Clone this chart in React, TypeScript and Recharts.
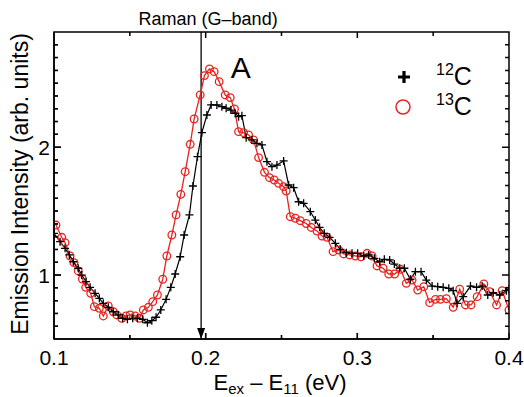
import React from 'react';
import { LineChart, Line, XAxis, YAxis, ReferenceLine, ReferenceDot, Legend, Label } from 'recharts';

// 12C series (black "+")
const c12X = [0.1000,0.1040,0.1073,0.1101,0.1127,0.1160,0.1183,0.1211,0.1238,0.1271,0.1299,0.1325,0.1358,0.1391,0.1424,0.1453,0.1484,0.1519,0.1550,0.1585,0.1616,0.1645,0.1673,0.1704,0.1739,0.1770,0.1799,0.1832,0.1858,0.1893,0.1916,0.1946,0.1975,0.2008,0.2036,0.2074,0.2107,0.2135,0.2166,0.2195,0.2217,0.2239,0.2267,0.2305,0.2338,0.2371,0.2404,0.2437,0.2470,0.2514,0.2547,0.2580,0.2613,0.2646,0.2690,0.2723,0.2751,0.2782,0.2817,0.2855,0.2888,0.2927,0.2965,0.3002,0.3042,0.3075,0.3112,0.3147,0.3178,0.3213,0.3244,0.3279,0.3310,0.3350,0.3383,0.3420,0.3455,0.3493,0.3530,0.3566,0.3603,0.3632,0.3658,0.3698,0.3746,0.3786,0.3823,0.3860,0.3896,0.3939,0.3983,0.4000];
const c12Y = [1.326,1.261,1.209,1.157,1.104,1.053,1.000,0.948,0.904,0.857,0.818,0.779,0.748,0.713,0.688,0.662,0.654,0.662,0.662,0.654,0.627,0.643,0.670,0.727,0.810,0.904,1.008,1.143,1.313,1.470,1.696,1.925,2.113,2.251,2.330,2.330,2.316,2.304,2.290,2.265,2.238,2.246,2.074,2.056,2.030,2.017,1.886,1.847,1.860,1.892,1.704,1.683,1.573,1.561,1.495,1.430,1.373,1.326,1.295,1.248,1.201,1.175,1.170,1.170,1.149,1.157,1.131,1.104,1.123,1.118,1.086,1.053,1.053,0.967,1.026,1.026,0.961,0.914,0.909,0.904,0.896,0.878,0.779,0.831,0.914,0.904,0.914,0.844,0.862,0.844,0.878,0.889];

// 13C series (red circles)
const c13X = [0.1013,0.1051,0.1073,0.1106,0.1132,0.1160,0.1187,0.1209,0.1242,0.1266,0.1299,0.1325,0.1358,0.1391,0.1414,0.1447,0.1475,0.1502,0.1535,0.1563,0.1589,0.1622,0.1651,0.1682,0.1717,0.1744,0.1777,0.1805,0.1836,0.1865,0.1898,0.1924,0.1964,0.1992,0.2025,0.2056,0.2089,0.2129,0.2162,0.2190,0.2217,0.2250,0.2283,0.2316,0.2349,0.2388,0.2421,0.2452,0.2481,0.2514,0.2531,0.2558,0.2591,0.2624,0.2663,0.2696,0.2734,0.2767,0.2800,0.2840,0.2877,0.2910,0.2949,0.2987,0.3024,0.3064,0.3097,0.3130,0.3170,0.3207,0.3246,0.3284,0.3323,0.3361,0.3398,0.3438,0.3477,0.3515,0.3548,0.3587,0.3632,0.3675,0.3713,0.3750,0.3790,0.3834,0.3873,0.3918,0.3955,0.4000];
const c13Y = [1.391,1.295,1.253,1.149,1.097,1.032,0.969,0.904,0.857,0.753,0.740,0.680,0.758,0.713,0.688,0.662,0.680,0.688,0.680,0.662,0.727,0.748,0.792,0.844,0.967,1.149,1.313,1.470,1.631,1.808,2.022,2.220,2.408,2.559,2.611,2.590,2.512,2.408,2.387,2.298,2.121,2.113,2.095,2.056,1.918,1.803,1.761,1.743,1.717,1.691,1.657,1.456,1.444,1.425,1.403,1.372,1.344,1.305,1.295,1.183,1.196,1.165,1.157,1.149,1.143,1.170,1.149,1.071,1.053,1.008,1.008,1.045,0.935,0.961,0.883,0.909,0.784,0.810,0.810,0.815,0.748,0.889,0.766,0.766,0.831,0.930,0.870,0.766,0.878,0.727];

const xTicks = [0.1, 0.15, 0.2, 0.25, 0.3, 0.35, 0.4];
const xMajorTicks = [0.1, 0.2, 0.3, 0.4];
const yTicks = [0.6,0.7,0.8,0.9,1,1.1,1.2,1.3,1.4,1.5,1.6,1.7,1.8,1.9,2,2.1,2.2,2.3,2.4,2.5,2.6,2.7,2.8];
const yMajorTicks = [1, 2];
const xDomain = [0.1, 0.4];
const yDomain = [0.5, 2.9];
const ramanX = 0.197;
const seriesNames = ['12', '13'];

const data12 = c12X.map((x, i) => ({ x, y: c12Y[i] }));
const data13 = c13X.map((x, i) => ({ x, y: c13Y[i] }));

// chart layout (not data)
const W = 524;
const H = 397;
const M = { top: 32, right: 15, bottom: 0, left: 0 };
const X_AXIS_H = 58;
const Y_AXIS_W = 54;
const PL = M.left + Y_AXIS_W;
const PT = M.top;
const PW = W - M.left - M.right - Y_AXIS_W;
const PH = H - M.top - M.bottom - X_AXIS_H;
const px = (v: number) => PL + ((v - xDomain[0]) / (xDomain[1] - xDomain[0])) * PW;
const py = (v: number) => PT + ((yDomain[1] - v) / (yDomain[1] - yDomain[0])) * PH;

const FONT = '"Liberation Sans", Arial, Helvetica, sans-serif';
const RED = '#e8231f';

const isMajor = (v: number, list: number[]) => list.some((m) => Math.abs(m - v) < 1e-6);

const BottomTick = (p: any) => {
  const { x, y, payload } = p;
  const v = payload.value;
  const major = isMajor(v, xMajorTicks);
  return (
    <g>
      <path d={`M${x},${y}V${y - (major ? 6 : 4)}`} stroke="#000" strokeWidth={1.2} fill="none" />
      {major && (
        <text x={x} y={y + 26} textAnchor="middle" fontSize={21} fontFamily={FONT} fill="#000">
          {v.toFixed(1)}
        </text>
      )}
    </g>
  );
};

const LeftTick = (p: any) => {
  const { x, y, payload } = p;
  const v = payload.value;
  const major = isMajor(v, yMajorTicks);
  return (
    <g>
      <path d={`M${x},${y}H${x + (major ? 7 : 4)}`} stroke="#000" strokeWidth={1.2} fill="none" />
      {major && (
        <text x={x - 4} y={y + 7.5} textAnchor="end" fontSize={21} fontFamily={FONT} fill="#000">
          {String(v)}
        </text>
      )}
    </g>
  );
};

// frame and inward ticks on all four sides
const frameAndTicks = () => {
  let d = `M${PL},${PT}H${PL + PW}V${PT + PH}H${PL}Z`;
  xTicks.slice(1, -1).forEach((v) => {
    const len = isMajor(v, xMajorTicks) ? 6 : 4;
    const x = px(v);
    d += `M${x},${PT + PH}V${PT + PH - len}M${x},${PT}V${PT + len}`;
  });
  yTicks.forEach((v) => {
    const len = isMajor(v, yMajorTicks) ? 7 : 4;
    const y = py(v);
    d += `M${PL},${y}H${PL + len}M${PL + PW},${y}H${PL + PW - len}`;
  });
  return d;
};

const PlusDot = (p: any) => {
  const { cx, cy, index } = p;
  if (cx == null || cy == null) return <g key={`pd${index}`} />;
  return (
    <path
      key={`pd${index}`}
      d={`M${cx - 4},${cy}H${cx + 4}M${cx},${cy - 4}V${cy + 4}`}
      stroke="#000"
      strokeWidth={1.3}
      fill="none"
    />
  );
};

const CircleDot = (p: any) => {
  const { cx, cy, index } = p;
  if (cx == null || cy == null) return <g key={`cd${index}`} />;
  return <circle key={`cd${index}`} cx={cx} cy={cy} r={3.8} stroke={RED} strokeWidth={1.3} fill="none" />;
};

const LegendContent = () => (
  <svg width={120} height={64} style={{ overflow: 'visible' }}>
    <path d="M8,17H20M14,11V23" stroke="#000" strokeWidth={3.2} fill="none" />
    <text x={46} y={25} fontSize={25} fontFamily={FONT} fill="#000">
      <tspan fontSize={16} dy={-10}>{seriesNames[0]}</tspan>
      <tspan dy={10}>C</tspan>
    </text>
    <circle cx={13} cy={47} r={7} stroke={RED} strokeWidth={1.5} fill="none" />
    <text x={46} y={55} fontSize={25} fontFamily={FONT} fill="#000">
      <tspan fontSize={16} dy={-10}>{seriesNames[1]}</tspan>
      <tspan dy={10}>C</tspan>
    </text>
  </svg>
);

const XTitle = () => (
  <text x={280} y={390} textAnchor="middle" fontSize={22} fontFamily={FONT} fill="#000">
    E<tspan fontSize={15} dy={4}>ex</tspan>
    <tspan dy={-4}> – E</tspan>
    <tspan fontSize={15} dy={4}>11</tspan>
    <tspan dy={-4}> (eV)</tspan>
  </text>
);

const YTitle = () => (
  <text
    x={28}
    y={184}
    transform="rotate(-90, 28, 184)"
    textAnchor="middle"
    fontSize={23}
    fontFamily={FONT}
    fill="#000"
  >
    Emission Intensity (arb. units)
  </text>
);

const RamanLabel = (p: any) => {
  const vb = p.viewBox || {};
  return (
    <text x={(vb.x ?? 0) + 7} y={(vb.y ?? 0) - 7} textAnchor="middle" fontSize={18} fontFamily={FONT} fill="#000">
      Raman (G–band)
    </text>
  );
};

const ALabel = (p: any) => {
  const vb = p.viewBox || {};
  const cx = (vb.cx ?? vb.x ?? 0);
  const cy = (vb.cy ?? vb.y ?? 0);
  return (
    <text x={cx} y={cy + 10.5} textAnchor="middle" fontSize={30} fontFamily={FONT} fill="#000">
      A
    </text>
  );
};

const ArrowHead = (p: any) => {
  const { cx, cy } = p;
  if (cx == null || cy == null) return <g />;
  return <path d={`M${cx - 4},${cy - 11}L${cx + 4},${cy - 11}L${cx},${cy}Z`} fill="#000" />;
};

export default function App() {
  return (
    <div style={{ position: 'absolute', left: 0, top: 0, width: W, height: H, background: '#fff' }}>
      <LineChart width={W} height={H} margin={M}>
        <XAxis
          dataKey="x"
          type="number"
          domain={xDomain}
          ticks={xTicks}
          interval={0}
          allowDataOverflow
          height={X_AXIS_H}
          tickSize={0}
          tickMargin={0}
          tickLine={false}
          axisLine={{ stroke: '#000', strokeWidth: 1.5 }}
          tick={BottomTick}
        >
          <Label content={XTitle} />
        </XAxis>
        <YAxis
          type="number"
          domain={yDomain}
          ticks={yTicks}
          interval={0}
          allowDataOverflow
          width={Y_AXIS_W}
          tickSize={0}
          tickMargin={0}
          tickLine={false}
          axisLine={{ stroke: '#000', strokeWidth: 1.5 }}
          tick={LeftTick}
        >
          <Label content={YTitle} />
        </YAxis>
        <ReferenceLine x={ramanX} stroke="#000" strokeWidth={1.3} label={RamanLabel} />
        <ReferenceDot x={ramanX} y={yDomain[0]} r={4} shape={ArrowHead} />
        <ReferenceDot x={0.2231} y={2.623} r={0} fill="none" stroke="none" label={ALabel} />
        <Line
          data={data13}
          dataKey="y"
          type="linear"
          stroke={RED}
          strokeWidth={1.3}
          dot={CircleDot}
          activeDot={false}
          isAnimationActive={false}
          legendType="none"
        />
        <Line
          data={data12}
          dataKey="y"
          type="linear"
          stroke="#000"
          strokeWidth={1.2}
          dot={PlusDot}
          activeDot={false}
          isAnimationActive={false}
          legendType="none"
        />
        <Legend
          layout="horizontal"
          verticalAlign="middle"
          align="center"
          content={LegendContent}
          wrapperStyle={{ position: 'absolute', left: 390, top: 60, width: 120, height: 64 }}
        />
      </LineChart>
      <svg
        width={W}
        height={H}
        style={{ position: 'absolute', left: 0, top: 0, pointerEvents: 'none' }}
      >
        <path d={frameAndTicks()} stroke="#000" strokeWidth={1.5} fill="none" />
      </svg>
    </div>
  );
}
